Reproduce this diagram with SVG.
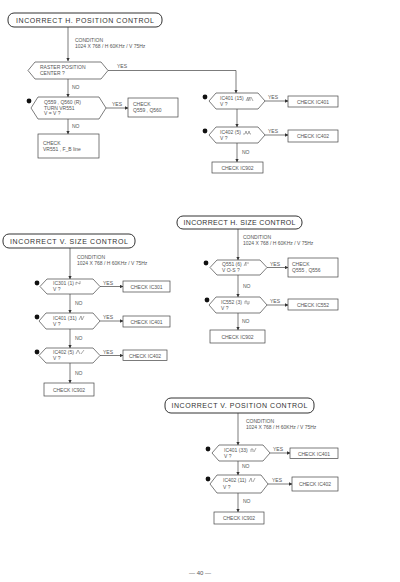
<svg xmlns="http://www.w3.org/2000/svg" width="400" height="582" viewBox="0 0 400 582">
<defs>
<marker id="arr" viewBox="0 0 6 6" refX="5.5" refY="3" markerWidth="5" markerHeight="5" orient="auto"><path d="M0,0 L6,3 L0,6 Z" fill="#333"/></marker>
<style>
.ln{fill:none;stroke:#444;stroke-width:0.7}
.ar{fill:none;stroke:#444;stroke-width:0.7;marker-end:url(#arr)}
.bx{fill:#fff;stroke:#444;stroke-width:0.7}
.tb{fill:#fff;stroke:#333;stroke-width:1}
.tt{font-family:"Liberation Sans",Arial,sans-serif;font-size:7px;fill:#333;text-anchor:middle}
.t{font-family:"Liberation Sans",Arial,sans-serif;font-size:5px;fill:#555}
.tm{font-family:"Liberation Sans",Arial,sans-serif;font-size:5px;fill:#555;text-anchor:middle}
.dot{fill:#111}
.wf{fill:none;stroke:#555;stroke-width:0.5}
</style>
</defs>
<rect width="400" height="582" fill="#fff"/>

<g id="connectors">
<!-- section 1 -->
<path class="ar" d="M68,27 V61"/>
<path class="ar" d="M108,70.5 H236 V93"/>
<path class="ar" d="M68,79 V97"/>
<path class="ar" d="M106,108 H128"/>
<path class="ar" d="M68,119 V134"/>
<path class="ar" d="M265,101 H288"/>
<path class="ar" d="M237,109 V127"/>
<path class="ar" d="M265,135 H288"/>
<path class="ar" d="M237,143 V162"/>
<!-- section 2 -->
<path class="ar" d="M70,248 V279"/>
<path class="ar" d="M100,286.5 H123"/>
<path class="ar" d="M70,294 V313"/>
<path class="ar" d="M100,321 H123"/>
<path class="ar" d="M70,329 V348"/>
<path class="ar" d="M100,355.5 H123"/>
<path class="ar" d="M70,363 V383"/>
<!-- section 3 -->
<path class="ar" d="M238,229 V260"/>
<path class="ar" d="M267,267.5 H288"/>
<path class="ar" d="M238,275 V297"/>
<path class="ar" d="M267,305 H288"/>
<path class="ar" d="M238,313 V330"/>
<!-- section 4 -->
<path class="ar" d="M238,413 V445"/>
<path class="ar" d="M270,453 H290"/>
<path class="ar" d="M238,461 V475"/>
<path class="ar" d="M268,484 H292"/>
<path class="ar" d="M238,493 V512"/>
</g>

<g id="labels">
<text class="t" x="75" y="42">CONDITION</text>
<text class="t" x="75" y="47.5">1024 X 768 / H 60KHz / V 75Hz</text>
<text class="t" x="117" y="68">YES</text>
<text class="t" x="72" y="89">NO</text>
<text class="t" x="112" y="106">YES</text>
<text class="t" x="72" y="128">NO</text>
<text class="t" x="268" y="99">YES</text>
<text class="t" x="268" y="133">YES</text>
<text class="t" x="242" y="154">NO</text>

<text class="t" x="77" y="259">CONDITION</text>
<text class="t" x="77" y="264.5">1024 X 768 / H 60KHz / V 75Hz</text>
<text class="t" x="103" y="284.5">YES</text>
<text class="t" x="75" y="305">NO</text>
<text class="t" x="103" y="319">YES</text>
<text class="t" x="75" y="340">NO</text>
<text class="t" x="103" y="353.5">YES</text>
<text class="t" x="75" y="375">NO</text>

<text class="t" x="243" y="239">CONDITION</text>
<text class="t" x="243" y="244.5">1024 X 768 / H 60KHz / V 75Hz</text>
<text class="t" x="270" y="265.5">YES</text>
<text class="t" x="243" y="288">NO</text>
<text class="t" x="270" y="303">YES</text>
<text class="t" x="242" y="323">NO</text>

<text class="t" x="246" y="423">CONDITION</text>
<text class="t" x="246" y="428.5">1024 X 768 / H 60KHz / V 75Hz</text>
<text class="t" x="273" y="451">YES</text>
<text class="t" x="242" y="468">NO</text>
<text class="t" x="272" y="482">YES</text>
<text class="t" x="243" y="503">NO</text>
</g>

<!-- Section 1: H. POSITION -->
<g id="title1"><rect class="tb" x="8" y="13" width="154" height="14" rx="6"/><text class="tt" x="85" y="22.5" textLength="138">INCORRECT  H. POSITION CONTROL</text></g>
<g id="q1"><path class="bx" d="M28,70.5 L35,62 H101 L108,70.5 L101,79 H35 Z"/><text class="t" x="40" y="69">RASTER POSITION</text><text class="t" x="40" y="75">CENTER ?</text></g>
<g id="q2"><circle class="dot" cx="29" cy="101" r="2.4"/><path class="bx" d="M31,108 L38,97 H99 L106,108 L99,119 H38 Z"/><text class="t" x="44" y="104">Q559 , Q560 (R)</text><text class="t" x="44" y="109.5">TURN  VR551</text><text class="t" x="44" y="115">V = V ?</text></g>
<g id="b1"><rect class="bx" x="128" y="98" width="50" height="19"/><text class="t" x="133" y="106">CHECK</text><text class="t" x="133" y="111.5">Q559 , Q560</text></g>
<g id="b2"><rect class="bx" x="38" y="134" width="61" height="24"/><text class="t" x="43" y="145">CHECK</text><text class="t" x="43" y="151">VR551 , F_B line</text></g>
<g id="q3"><circle class="dot" cx="205" cy="97" r="2.4"/><path class="bx" d="M209,101 L216,93 H258 L265,101 L258,109 H216 Z"/><text class="t" x="220" y="100">IC401 (15)</text><path class="wf" d="M246,101 L248,97 V101 L250,97 V101 M251,97 L253,101"/><text class="t" x="220" y="106">V ?</text></g>
<g id="b3"><rect class="bx" x="288" y="96" width="50" height="11"/><text class="tm" x="313" y="103.5">CHECK  IC401</text></g>
<g id="q4"><circle class="dot" cx="205" cy="131" r="2.4"/><path class="bx" d="M209,135 L216,127 H258 L265,135 L258,143 H216 Z"/><text class="t" x="220" y="134">IC402 (5)</text><path class="wf" d="M243,134 H245 L246,131 L247,134 H248 L249,131 L250,134 H251"/><text class="t" x="220" y="140">V ?</text></g>
<g id="b4"><rect class="bx" x="288" y="130" width="50" height="12"/><text class="tm" x="313" y="137.5">CHECK  IC402</text></g>
<g id="b5"><rect class="bx" x="212" y="162" width="51" height="11"/><text class="tm" x="237.5" y="169.5">CHECK  IC902</text></g>

<!-- Section 2: V. SIZE -->
<g id="title2"><rect class="tb" x="3" y="234" width="132" height="14" rx="6"/><text class="tt" x="69" y="243.5" textLength="118">INCORRECT  V. SIZE CONTROL</text></g>
<g id="q5"><circle class="dot" cx="37" cy="283" r="2.4"/><path class="bx" d="M40,286.5 L47,279 H93 L100,286.5 L93,294 H47 Z"/><text class="t" x="53" y="285">IC301 (1)</text><path class="wf" d="M76,285 V282 L80,284 V281"/><text class="t" x="53" y="291">V ?</text></g>
<g id="b6"><rect class="bx" x="123" y="281" width="47" height="11"/><text class="tm" x="146.5" y="288.5">CHECK  IC301</text></g>
<g id="q6"><circle class="dot" cx="37" cy="317" r="2.4"/><path class="bx" d="M39,321 L46,313 H93 L100,321 L93,329 H46 Z"/><text class="t" x="53" y="320">IC401 (31)</text><path class="wf" d="M79,320 L81,316 L82,320 L84,316"/><text class="t" x="53" y="326">V ?</text></g>
<g id="b7"><rect class="bx" x="123" y="316" width="47" height="11"/><text class="tm" x="146.5" y="323.5">CHECK  IC401</text></g>
<g id="q7"><circle class="dot" cx="37" cy="352" r="2.4"/><path class="bx" d="M39,355.5 L46,348 H93 L100,355.5 L93,363 H46 Z"/><text class="t" x="53" y="354">IC402 (5)</text><path class="wf" d="M76,354 L78,350 L80,354 M81,354 L84,350"/><text class="t" x="53" y="360">V ?</text></g>
<g id="b8"><rect class="bx" x="123" y="350" width="44" height="10.5"/><text class="tm" x="145" y="357.5">CHECK  IC402</text></g>
<g id="b9"><rect class="bx" x="44" y="383" width="50" height="13"/><text class="tm" x="69" y="391.5">CHECK  IC902</text></g>

<!-- Section 3: H. SIZE -->
<g id="title3"><rect class="tb" x="177" y="216" width="125" height="13" rx="6"/><text class="tt" x="239.5" y="225" textLength="112">INCORRECT  H. SIZE CONTROL</text></g>
<g id="q8"><circle class="dot" cx="206" cy="263" r="2.4"/><path class="bx" d="M210,267.5 L217,260 H260 L267,267.5 L260,275 H217 Z"/><text class="t" x="222" y="266">Q551 (6)</text><path class="wf" d="M244,266 L246,262 V266 M247,263 H249"/><text class="t" x="222" y="272">V O-S ?</text></g>
<g id="b10"><rect class="bx" x="288" y="258" width="50" height="19"/><text class="t" x="292" y="266">CHECK</text><text class="t" x="292" y="272">Q555 , Q556</text></g>
<g id="q9"><circle class="dot" cx="207" cy="300" r="2.4"/><path class="bx" d="M209,305 L216,297 H260 L267,305 L260,313 H216 Z"/><text class="t" x="221" y="304">IC552 (3)</text><path class="wf" d="M245,304 V301 H247 V304 H249 V301"/><text class="t" x="221" y="310">V ?</text></g>
<g id="b11"><rect class="bx" x="288" y="299" width="50" height="11"/><text class="tm" x="313" y="306.5">CHECK  IC552</text></g>
<g id="b12"><rect class="bx" x="210" y="330" width="55" height="13"/><text class="tm" x="237.5" y="338.5">CHECK  IC902</text></g>

<!-- Section 4: V. POSITION -->
<g id="title4"><rect class="tb" x="165" y="398" width="149" height="15" rx="6"/><text class="tt" x="239.5" y="408" textLength="136">INCORRECT  V. POSITION CONTROL</text></g>
<g id="q10"><circle class="dot" cx="208" cy="449" r="2.4"/><path class="bx" d="M212,453 L219,445 H263 L270,453 L263,461 H219 Z"/><text class="t" x="224" y="452">IC401 (33)</text><path class="wf" d="M251,452 V449 H253 V452 M254,452 L256,448"/><text class="t" x="224" y="458">V ?</text></g>
<g id="b13"><rect class="bx" x="290" y="448" width="48" height="10.5"/><text class="tm" x="314" y="455.5">CHECK  IC401</text></g>
<g id="q11"><circle class="dot" cx="208" cy="479" r="2.4"/><path class="bx" d="M210,484 L217,475 H261 L268,484 L261,493 H217 Z"/><text class="t" x="223" y="482">IC402 (11)</text><path class="wf" d="M249,482 L251,478 L252,482 M253,482 L255,478"/><text class="t" x="223" y="488.5">V ?</text></g>
<g id="b14"><rect class="bx" x="292" y="477" width="46" height="14"/><text class="tm" x="315" y="486">CHECK  IC402</text></g>
<g id="b15"><rect class="bx" x="214" y="512" width="50" height="12"/><text class="tm" x="239" y="520">CHECK  IC902</text></g>

<text id="page" x="200" y="575" style="font-family:'Liberation Sans',Arial,sans-serif;font-size:6px;fill:#555;text-anchor:middle">— 40 —</text>
</svg>
